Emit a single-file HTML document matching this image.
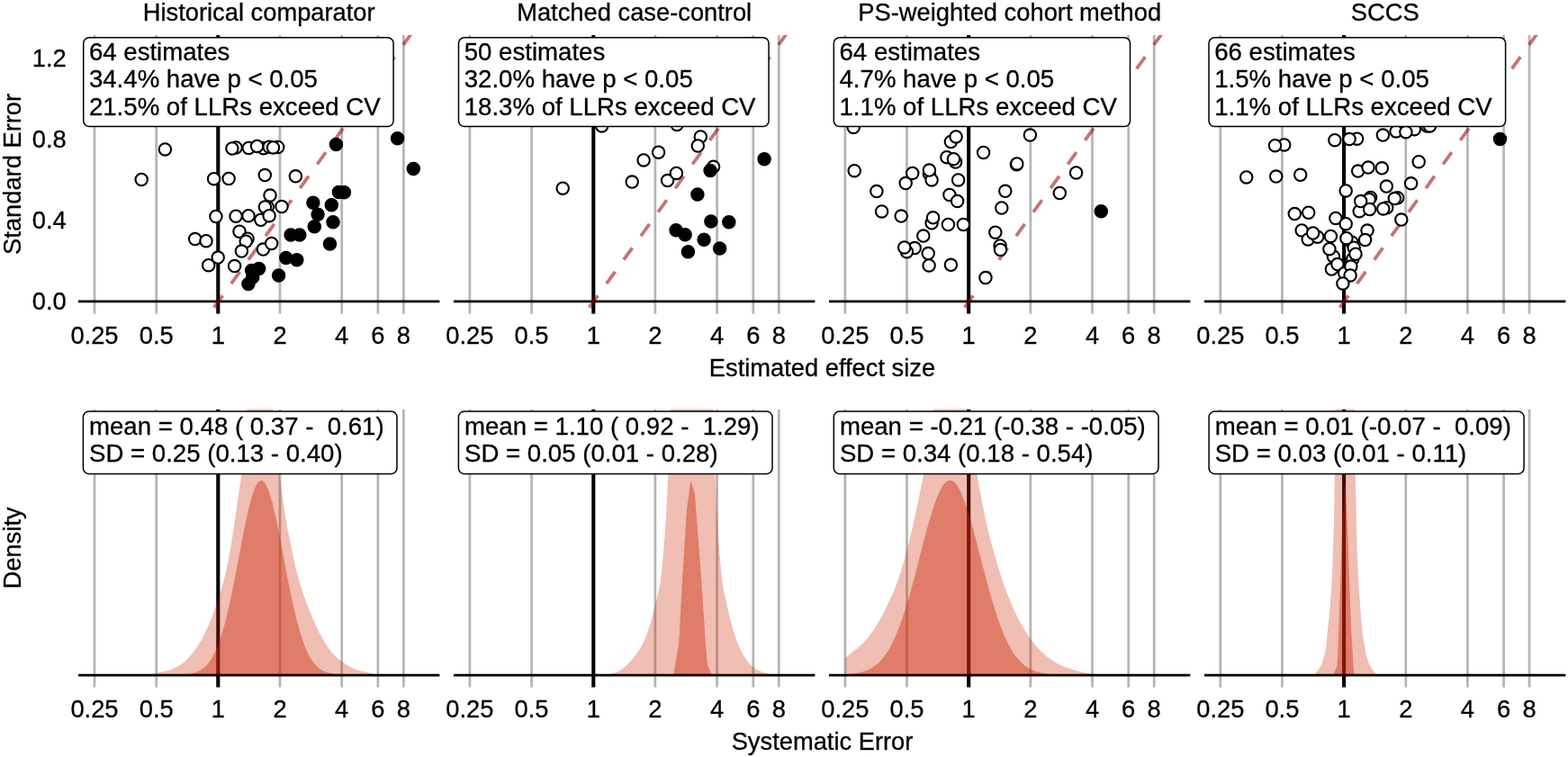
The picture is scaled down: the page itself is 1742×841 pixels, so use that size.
<!DOCTYPE html>
<html lang="en">
<head>
<meta charset="utf-8">
<title>Systematic error distributions</title>
<style>
html,body{margin:0;padding:0;background:#fff;}
body{width:1742px;height:841px;overflow:hidden;}
svg{display:block;}
svg text{font-family:"Liberation Sans",Arial,Helvetica,sans-serif;font-size:27.3px;fill:#000;stroke:#000;stroke-width:0.3px;}
.g{stroke:#b5b5b5;stroke-width:2.75;fill:none;}
.v{stroke:#000;stroke-width:4.1;fill:none;}
.h{stroke:#000;stroke-width:2.75;fill:none;}
.d{stroke:rgb(153,0,0);stroke-opacity:0.55;stroke-width:3.8;stroke-dasharray:16.4 16.3;fill:none;}
.o{fill:#fff;stroke:#000;stroke-width:2.1;}
.f{fill:#000;stroke:#000;stroke-width:2.1;}
.b{fill:#fff;stroke:#000;stroke-width:1.5;}
svg text.t{font-size:27.62px;white-space:pre;}
.l{fill:rgb(205,40,4);fill-opacity:0.3;}
.k{fill:rgb(205,40,4);fill-opacity:0.43;}
</style>
</head>
<body>
<svg width="1742" height="841" viewBox="0 0 1742 841">
<rect x="0" y="0" width="1742" height="841" fill="#fff"/>
<defs>
<clipPath id="ct0"><rect x="86.8" y="39.0" width="401.8" height="309.7"/></clipPath>
<clipPath id="cb0"><rect x="86.8" y="454.5" width="401.8" height="309.2"/></clipPath>
<clipPath id="ct1"><rect x="503.8" y="39.0" width="401.8" height="309.7"/></clipPath>
<clipPath id="cb1"><rect x="503.8" y="454.5" width="401.8" height="309.2"/></clipPath>
<clipPath id="ct2"><rect x="920.8" y="39.0" width="401.8" height="309.7"/></clipPath>
<clipPath id="cb2"><rect x="920.8" y="454.5" width="401.8" height="309.2"/></clipPath>
<clipPath id="ct3"><rect x="1337.8" y="39.0" width="401.8" height="309.7"/></clipPath>
<clipPath id="cb3"><rect x="1337.8" y="454.5" width="401.8" height="309.2"/></clipPath>
</defs>
<g id="top-panel-1">
<text x="287.7" y="22.7" text-anchor="middle">Historical comparator</text>
<g clip-path="url(#ct0)">
<line class="g" x1="105" x2="105" y1="39" y2="348.7"/>
<line class="g" x1="173.7" x2="173.7" y1="39" y2="348.7"/>
<line class="g" x1="311" x2="311" y1="39" y2="348.7"/>
<line class="g" x1="379.7" x2="379.7" y1="39" y2="348.7"/>
<line class="g" x1="419.9" x2="419.9" y1="39" y2="348.7"/>
<line class="g" x1="448.4" x2="448.4" y1="39" y2="348.7"/>
<line class="v" x1="242.3" x2="242.3" y1="39" y2="348.7"/>
<line class="h" x1="86.8" x2="488.6" y1="334.9" y2="334.9"/>
<line class="d" x1="237.76" y1="341.70" x2="459.42" y2="34.00"/>
<circle class="o" cx="262.1" cy="163.9" r="6.7"/>
<circle class="o" cx="257.9" cy="165" r="6.7"/>
<circle class="o" cx="276.3" cy="164.4" r="6.7"/>
<circle class="o" cx="292.8" cy="164.7" r="6.7"/>
<circle class="o" cx="285.6" cy="162.4" r="6.7"/>
<circle class="o" cx="299.1" cy="163.2" r="6.7"/>
<circle class="o" cx="308.7" cy="163.5" r="6.7"/>
<circle class="o" cx="303.5" cy="163.9" r="6.7"/>
<circle class="o" cx="183.4" cy="165.9" r="6.7"/>
<circle class="o" cx="157.2" cy="199.4" r="6.7"/>
<circle class="o" cx="237.6" cy="198.7" r="6.7"/>
<circle class="o" cx="254.1" cy="198.4" r="6.7"/>
<circle class="o" cx="294.3" cy="194.6" r="6.7"/>
<circle class="o" cx="328.4" cy="195.8" r="6.7"/>
<circle class="o" cx="300" cy="217.1" r="6.7"/>
<circle class="o" cx="313" cy="229.6" r="6.7"/>
<circle class="o" cx="297.3" cy="229.9" r="6.7"/>
<circle class="o" cx="294.4" cy="230" r="6.7"/>
<circle class="o" cx="239.9" cy="240.5" r="6.7"/>
<circle class="o" cx="262.1" cy="240.2" r="6.7"/>
<circle class="o" cx="276" cy="239.7" r="6.7"/>
<circle class="o" cx="289.8" cy="244.3" r="6.7"/>
<circle class="o" cx="299.1" cy="239.7" r="6.7"/>
<circle class="o" cx="266" cy="257.2" r="6.7"/>
<circle class="o" cx="216.7" cy="265.6" r="6.7"/>
<circle class="o" cx="229" cy="267.7" r="6.7"/>
<circle class="o" cx="275.1" cy="265.2" r="6.7"/>
<circle class="o" cx="273.2" cy="268.2" r="6.7"/>
<circle class="o" cx="268.4" cy="279.1" r="6.7"/>
<circle class="o" cx="292.4" cy="277.1" r="6.7"/>
<circle class="o" cx="301.7" cy="270.4" r="6.7"/>
<circle class="o" cx="231.7" cy="294.7" r="6.7"/>
<circle class="o" cx="242.2" cy="286.1" r="6.7"/>
<circle class="o" cx="260.6" cy="295.6" r="6.7"/>
<circle class="f" cx="275.9" cy="315.4" r="6.7"/>
<circle class="f" cx="280.7" cy="307.9" r="6.7"/>
<circle class="f" cx="279.6" cy="300.4" r="6.7"/>
<circle class="f" cx="287.6" cy="298.4" r="6.7"/>
<circle class="f" cx="309.6" cy="306.1" r="6.7"/>
<circle class="f" cx="317.8" cy="286.4" r="6.7"/>
<circle class="f" cx="329.8" cy="288.8" r="6.7"/>
<circle class="f" cx="323.1" cy="261" r="6.7"/>
<circle class="f" cx="332.8" cy="261" r="6.7"/>
<circle class="f" cx="349.3" cy="251.7" r="6.7"/>
<circle class="f" cx="366.5" cy="270.9" r="6.7"/>
<circle class="f" cx="370" cy="246.7" r="6.7"/>
<circle class="f" cx="353.1" cy="238.2" r="6.7"/>
<circle class="f" cx="347.9" cy="225.2" r="6.7"/>
<circle class="f" cx="368.3" cy="227.8" r="6.7"/>
<circle class="f" cx="376.4" cy="213.4" r="6.7"/>
<circle class="f" cx="382.4" cy="213.7" r="6.7"/>
<circle class="f" cx="373.4" cy="160.5" r="6.7"/>
<circle class="f" cx="441.6" cy="153.7" r="6.7"/>
<circle class="f" cx="459.3" cy="187.6" r="6.7"/>
</g>
<rect class="b" x="92.7" y="41.8" width="344.4" height="98.8" rx="6.3" ry="6.3"/>
<text class="t" x="98.9" y="67.3" xml:space="preserve">64 estimates</text>
<text class="t" x="98.9" y="97.4" xml:space="preserve">34.4% have p &lt; 0.05</text>
<text class="t" x="98.9" y="127.5" xml:space="preserve">21.5% of LLRs exceed CV</text>
<text x="105" y="382.3" text-anchor="middle">0.25</text>
<text x="173.7" y="382.3" text-anchor="middle">0.5</text>
<text x="242.3" y="382.3" text-anchor="middle">1</text>
<text x="311" y="382.3" text-anchor="middle">2</text>
<text x="379.7" y="382.3" text-anchor="middle">4</text>
<text x="419.9" y="382.3" text-anchor="middle">6</text>
<text x="448.4" y="382.3" text-anchor="middle">8</text>
</g>
<g id="bottom-panel-1">
<g clip-path="url(#cb0)">
<line class="g" x1="105" x2="105" y1="454.5" y2="763.7"/>
<line class="g" x1="173.7" x2="173.7" y1="454.5" y2="763.7"/>
<line class="g" x1="311" x2="311" y1="454.5" y2="763.7"/>
<line class="g" x1="379.7" x2="379.7" y1="454.5" y2="763.7"/>
<line class="g" x1="419.9" x2="419.9" y1="454.5" y2="763.7"/>
<line class="g" x1="448.4" x2="448.4" y1="454.5" y2="763.7"/>
<line class="v" x1="242.3" x2="242.3" y1="454.5" y2="763.7"/>
<path class="l" d="M168.0 749.9L168.0 749.9L171.7 748.5L176.9 747.0L184.6 745.5L189.6 744.0L193.3 742.5L196.3 741.0L198.9 739.5L201.1 738.0L203.2 736.5L205.1 735.0L206.7 733.5L208.2 732.0L209.7 730.5L211.0 729.0L212.3 727.5L213.6 726.0L214.8 724.5L215.9 723.0L217.0 721.5L218.1 720.0L219.1 718.5L220.1 717.0L221.0 715.5L221.9 714.0L222.8 712.5L223.7 711.0L224.5 709.5L225.3 708.0L226.0 706.5L226.8 705.0L227.5 703.5L228.2 702.0L228.9 700.5L229.6 699.0L230.3 697.5L231.0 696.0L231.7 694.5L232.4 693.0L233.0 691.5L233.7 690.0L234.3 688.5L234.9 687.0L235.5 685.5L236.1 684.0L236.6 682.5L237.2 681.0L237.7 679.5L238.2 678.0L238.7 676.5L239.2 675.0L239.7 673.5L240.2 672.0L240.7 670.5L241.2 669.0L241.7 667.5L242.2 666.0L242.7 664.5L243.2 663.0L243.7 661.5L244.2 660.0L244.6 658.5L245.1 657.0L245.6 655.5L246.0 654.0L246.4 652.5L246.9 651.0L247.3 649.5L247.8 648.0L248.2 646.5L248.6 645.0L249.0 643.5L249.4 642.0L249.8 640.5L250.1 639.0L250.5 637.5L250.8 636.0L251.2 634.5L251.5 633.0L251.8 631.5L252.1 630.0L252.4 628.5L252.7 627.0L253.0 625.5L253.3 624.0L253.6 622.5L253.9 621.0L254.2 619.5L254.4 618.0L254.7 616.5L255.0 615.0L255.3 613.5L255.5 612.0L255.8 610.5L256.1 609.0L256.3 607.5L256.6 606.0L256.8 604.5L257.1 603.0L257.3 601.5L257.6 600.0L257.8 598.5L258.1 597.0L258.3 595.5L258.5 594.0L258.8 592.5L259.0 591.0L259.2 589.5L259.5 588.0L259.7 586.5L259.9 585.0L260.2 583.5L260.4 582.0L260.6 580.5L260.8 579.0L261.1 577.5L261.3 576.0L261.5 574.5L261.7 573.0L261.9 571.5L262.1 570.0L262.3 568.5L262.5 567.0L262.7 565.5L263.0 564.0L263.2 562.5L263.4 561.0L263.6 559.5L263.8 558.0L264.0 556.5L264.2 555.0L264.4 553.5L264.6 552.0L264.8 550.5L265.0 549.0L265.3 547.5L265.5 546.0L265.7 544.5L266.0 543.0L266.2 541.5L266.4 540.0L266.7 538.5L266.9 537.0L267.1 535.5L267.4 534.0L267.6 532.5L267.8 531.0L268.0 529.5L268.1 528.0L268.3 526.5L268.5 525.0L268.6 523.5L268.8 522.0L269.0 520.5L269.1 519.0L269.3 517.5L269.5 516.0L269.6 514.5L269.8 513.0L269.9 511.5L270.1 510.0L270.3 508.5L270.4 507.0L270.6 505.5L270.7 504.0L270.9 502.5L271.0 501.0L271.2 499.5L271.3 498.0L271.4 496.5L271.6 495.0L271.7 493.5L271.9 492.0L272.0 490.5L272.1 489.0L272.3 487.5L272.4 486.0L272.5 484.5L272.6 483.0L272.7 481.5L272.9 480.0L273.0 478.5L273.1 477.0L273.2 475.5L273.3 474.0L273.4 472.5L273.5 471.0L273.6 469.5L273.7 468.0L273.7 466.5L273.8 465.0L273.9 463.5L274.0 462.0L274.1 460.5L274.1 459.0L274.2 457.5L274.2 456.0L274.3 454.5L274.7 450.0L302.9 450.0L303.3 454.5L303.4 456.0L303.5 457.5L303.6 459.0L303.8 460.5L303.9 462.0L304.0 463.5L304.1 465.0L304.3 466.5L304.4 468.0L304.5 469.5L304.6 471.0L304.8 472.5L304.9 474.0L305.1 475.5L305.2 477.0L305.3 478.5L305.5 480.0L305.6 481.5L305.8 483.0L305.9 484.5L306.1 486.0L306.2 487.5L306.4 489.0L306.5 490.5L306.7 492.0L306.8 493.5L307.0 495.0L307.1 496.5L307.3 498.0L307.4 499.5L307.6 501.0L307.8 502.5L307.9 504.0L308.1 505.5L308.3 507.0L308.4 508.5L308.6 510.0L308.8 511.5L308.9 513.0L309.1 514.5L309.3 516.0L309.4 517.5L309.6 519.0L309.8 520.5L310.0 522.0L310.1 523.5L310.3 525.0L310.5 526.5L310.7 528.0L310.8 529.5L311.0 531.0L311.2 532.5L311.4 534.0L311.6 535.5L311.8 537.0L312.0 538.5L312.2 540.0L312.4 541.5L312.6 543.0L312.8 544.5L313.0 546.0L313.2 547.5L313.5 549.0L313.7 550.5L313.9 552.0L314.1 553.5L314.3 555.0L314.5 556.5L314.7 558.0L314.9 559.5L315.2 561.0L315.4 562.5L315.6 564.0L315.8 565.5L316.0 567.0L316.3 568.5L316.5 570.0L316.7 571.5L317.0 573.0L317.2 574.5L317.4 576.0L317.7 577.5L317.9 579.0L318.2 580.5L318.5 582.0L318.7 583.5L319.0 585.0L319.3 586.5L319.6 588.0L319.9 589.5L320.2 591.0L320.5 592.5L320.8 594.0L321.1 595.5L321.4 597.0L321.7 598.5L322.0 600.0L322.3 601.5L322.6 603.0L323.0 604.5L323.3 606.0L323.6 607.5L323.9 609.0L324.2 610.5L324.5 612.0L324.9 613.5L325.2 615.0L325.5 616.5L325.8 618.0L326.1 619.5L326.4 621.0L326.7 622.5L327.1 624.0L327.4 625.5L327.7 627.0L328.0 628.5L328.4 630.0L328.7 631.5L329.1 633.0L329.4 634.5L329.8 636.0L330.2 637.5L330.5 639.0L330.9 640.5L331.3 642.0L331.8 643.5L332.2 645.0L332.6 646.5L333.1 648.0L333.5 649.5L334.0 651.0L334.5 652.5L335.0 654.0L335.5 655.5L336.0 657.0L336.5 658.5L337.0 660.0L337.5 661.5L338.0 663.0L338.6 664.5L339.1 666.0L339.7 667.5L340.2 669.0L340.8 670.5L341.4 672.0L341.9 673.5L342.5 675.0L343.1 676.5L343.7 678.0L344.3 679.5L344.9 681.0L345.6 682.5L346.2 684.0L346.8 685.5L347.4 687.0L348.1 688.5L348.7 690.0L349.4 691.5L350.1 693.0L350.7 694.5L351.4 696.0L352.1 697.5L352.9 699.0L353.6 700.5L354.3 702.0L355.1 703.5L355.9 705.0L356.7 706.5L357.5 708.0L358.3 709.5L359.2 711.0L360.1 712.5L361.0 714.0L362.0 715.5L363.0 717.0L364.0 718.5L365.1 720.0L366.2 721.5L367.3 723.0L368.6 724.5L369.8 726.0L371.2 727.5L372.6 729.0L374.1 730.5L375.8 732.0L377.7 733.5L379.7 735.0L381.9 736.5L384.2 738.0L386.6 739.5L389.2 741.0L392.1 742.5L395.7 744.0L400.7 745.5L408.4 747.0L413.9 748.5L418.0 749.9L418.0 749.9Z"/>
<path class="k" d="M86.8 749.9L86.8 749.9L190.4 749.8L194.4 749.8L198.4 749.7L202.4 749.5L206.4 749.2L210.4 748.7L214.4 747.9L218.4 746.7L222.4 744.8L226.4 742.1L230.4 738.2L234.4 732.8L238.4 725.6L242.4 716.3L246.4 704.6L250.4 690.4L254.4 673.7L258.4 654.9L262.4 634.6L266.4 613.4L270.4 592.6L274.4 573.3L278.4 556.6L282.4 543.9L286.4 535.9L290.4 533.4L294.4 536.5L298.4 544.9L302.4 558.1L306.4 575.1L310.4 594.6L314.4 615.6L318.4 636.7L322.4 656.9L326.4 675.5L330.4 691.9L334.4 705.8L338.4 717.3L342.4 726.4L346.4 733.4L350.4 738.6L354.4 742.4L358.4 745.0L362.4 746.8L366.4 748.0L370.4 748.8L374.4 749.2L378.4 749.5L382.4 749.7L386.4 749.8L390.4 749.8L488.6 749.9L488.6 749.9Z"/>
<line class="h" x1="86.8" x2="488.6" y1="750" y2="750"/>
</g>
<rect class="b" x="92.4" y="457.1" width="348.6" height="69.3" rx="6.3" ry="6.3"/>
<text class="t" x="99" y="483" xml:space="preserve">mean = 0.48 ( 0.37 -  0.61)</text>
<text class="t" x="99" y="512.6" xml:space="preserve">SD = 0.25 (0.13 - 0.40)</text>
<text x="105" y="797.3" text-anchor="middle">0.25</text>
<text x="173.7" y="797.3" text-anchor="middle">0.5</text>
<text x="242.3" y="797.3" text-anchor="middle">1</text>
<text x="311" y="797.3" text-anchor="middle">2</text>
<text x="379.7" y="797.3" text-anchor="middle">4</text>
<text x="419.9" y="797.3" text-anchor="middle">6</text>
<text x="448.4" y="797.3" text-anchor="middle">8</text>
</g>
<g id="top-panel-2">
<text x="704.7" y="22.7" text-anchor="middle">Matched case-control</text>
<g clip-path="url(#ct1)">
<line class="g" x1="521.9" x2="521.9" y1="39" y2="348.7"/>
<line class="g" x1="590.6" x2="590.6" y1="39" y2="348.7"/>
<line class="g" x1="727.9" x2="727.9" y1="39" y2="348.7"/>
<line class="g" x1="796.6" x2="796.6" y1="39" y2="348.7"/>
<line class="g" x1="836.8" x2="836.8" y1="39" y2="348.7"/>
<line class="g" x1="865.3" x2="865.3" y1="39" y2="348.7"/>
<line class="v" x1="659.3" x2="659.3" y1="39" y2="348.7"/>
<line class="h" x1="503.8" x2="905.6" y1="334.9" y2="334.9"/>
<line class="d" x1="654.68" y1="341.70" x2="876.34" y2="34.00"/>
<circle class="o" cx="668.6" cy="139.9" r="6.7"/>
<circle class="o" cx="752.1" cy="138.4" r="6.7"/>
<circle class="o" cx="778.3" cy="151.9" r="6.7"/>
<circle class="o" cx="775.3" cy="162" r="6.7"/>
<circle class="o" cx="731.6" cy="169.2" r="6.7"/>
<circle class="o" cx="715.1" cy="177.9" r="6.7"/>
<circle class="o" cx="792.6" cy="185.3" r="6.7"/>
<circle class="o" cx="741.6" cy="200.6" r="6.7"/>
<circle class="o" cx="751.4" cy="192.4" r="6.7"/>
<circle class="o" cx="702.2" cy="202.1" r="6.7"/>
<circle class="o" cx="625.2" cy="209.2" r="6.7"/>
<circle class="f" cx="789.1" cy="189.4" r="6.7"/>
<circle class="f" cx="849.1" cy="176.7" r="6.7"/>
<circle class="f" cx="774.9" cy="216.1" r="6.7"/>
<circle class="f" cx="789.9" cy="245.9" r="6.7"/>
<circle class="f" cx="809.8" cy="246.7" r="6.7"/>
<circle class="f" cx="751.1" cy="255.8" r="6.7"/>
<circle class="f" cx="761.1" cy="260.7" r="6.7"/>
<circle class="f" cx="782.1" cy="266.2" r="6.7"/>
<circle class="f" cx="799.6" cy="275.9" r="6.7"/>
<circle class="f" cx="764.4" cy="279.7" r="6.7"/>
</g>
<rect class="b" x="509.5" y="41.8" width="344.6" height="98.8" rx="6.3" ry="6.3"/>
<text class="t" x="515.7" y="67.3" xml:space="preserve">50 estimates</text>
<text class="t" x="515.7" y="97.4" xml:space="preserve">32.0% have p &lt; 0.05</text>
<text class="t" x="515.7" y="127.5" xml:space="preserve">18.3% of LLRs exceed CV</text>
<text x="521.9" y="382.3" text-anchor="middle">0.25</text>
<text x="590.6" y="382.3" text-anchor="middle">0.5</text>
<text x="659.3" y="382.3" text-anchor="middle">1</text>
<text x="727.9" y="382.3" text-anchor="middle">2</text>
<text x="796.6" y="382.3" text-anchor="middle">4</text>
<text x="836.8" y="382.3" text-anchor="middle">6</text>
<text x="865.3" y="382.3" text-anchor="middle">8</text>
</g>
<g id="bottom-panel-2">
<g clip-path="url(#cb1)">
<line class="g" x1="521.9" x2="521.9" y1="454.5" y2="763.7"/>
<line class="g" x1="590.6" x2="590.6" y1="454.5" y2="763.7"/>
<line class="g" x1="727.9" x2="727.9" y1="454.5" y2="763.7"/>
<line class="g" x1="796.6" x2="796.6" y1="454.5" y2="763.7"/>
<line class="g" x1="836.8" x2="836.8" y1="454.5" y2="763.7"/>
<line class="g" x1="865.3" x2="865.3" y1="454.5" y2="763.7"/>
<line class="v" x1="659.3" x2="659.3" y1="454.5" y2="763.7"/>
<path class="l" d="M670.0 749.9L670.0 749.9L679.8 748.5L684.7 747.0L687.7 745.5L690.0 744.0L691.9 742.5L693.8 741.0L695.6 739.5L697.2 738.0L698.7 736.5L700.2 735.0L701.5 733.5L702.8 732.0L704.0 730.5L705.2 729.0L706.3 727.5L707.4 726.0L708.5 724.5L709.5 723.0L710.5 721.5L711.4 720.0L712.3 718.5L713.2 717.0L713.9 715.5L714.7 714.0L715.4 712.5L716.1 711.0L716.7 709.5L717.3 708.0L717.9 706.5L718.5 705.0L719.0 703.5L719.5 702.0L720.0 700.5L720.5 699.0L721.0 697.5L721.5 696.0L721.9 694.5L722.4 693.0L722.8 691.5L723.3 690.0L723.7 688.5L724.1 687.0L724.5 685.5L724.9 684.0L725.3 682.5L725.7 681.0L726.1 679.5L726.4 678.0L726.8 676.5L727.2 675.0L727.5 673.5L727.9 672.0L728.3 670.5L728.6 669.0L729.0 667.5L729.4 666.0L729.8 664.5L730.2 663.0L730.5 661.5L730.9 660.0L731.3 658.5L731.6 657.0L732.0 655.5L732.3 654.0L732.6 652.5L732.9 651.0L733.2 649.5L733.4 648.0L733.6 646.5L733.8 645.0L734.0 643.5L734.2 642.0L734.3 640.5L734.5 639.0L734.7 637.5L734.9 636.0L735.0 634.5L735.2 633.0L735.3 631.5L735.5 630.0L735.7 628.5L735.8 627.0L736.0 625.5L736.1 624.0L736.2 622.5L736.4 621.0L736.5 619.5L736.7 618.0L736.8 616.5L736.9 615.0L737.1 613.5L737.2 612.0L737.3 610.5L737.5 609.0L737.6 607.5L737.7 606.0L737.8 604.5L737.9 603.0L738.1 601.5L738.2 600.0L738.3 598.5L738.4 597.0L738.5 595.5L738.6 594.0L738.7 592.5L738.8 591.0L738.9 589.5L739.0 588.0L739.1 586.5L739.2 585.0L739.3 583.5L739.4 582.0L739.5 580.5L739.6 579.0L739.7 577.5L739.8 576.0L739.9 574.5L740.0 573.0L740.1 571.5L740.1 570.0L740.2 568.5L740.3 567.0L740.4 565.5L740.5 564.0L740.6 562.5L740.6 561.0L740.7 559.5L740.8 558.0L740.9 556.5L741.0 555.0L741.0 553.5L741.1 552.0L741.2 550.5L741.3 549.0L741.3 547.5L741.4 546.0L741.5 544.5L741.6 543.0L741.6 541.5L741.7 540.0L741.8 538.5L741.8 537.0L741.9 535.5L742.0 534.0L742.1 532.5L742.1 531.0L742.2 529.5L742.3 528.0L742.3 526.5L742.4 525.0L742.5 523.5L742.6 522.0L742.6 520.5L742.7 519.0L742.8 517.5L742.8 516.0L742.9 514.5L743.0 513.0L743.0 511.5L743.1 510.0L743.2 508.5L743.2 507.0L743.3 505.5L743.4 504.0L743.4 502.5L743.5 501.0L743.5 499.5L743.6 498.0L743.7 496.5L743.7 495.0L743.8 493.5L743.8 492.0L743.9 490.5L743.9 489.0L744.0 487.5L744.1 486.0L744.1 484.5L744.2 483.0L744.2 481.5L744.3 480.0L744.3 478.5L744.4 477.0L744.4 475.5L744.5 474.0L744.5 472.5L744.6 471.0L744.6 469.5L744.6 468.0L744.7 466.5L744.7 465.0L744.8 463.5L744.8 462.0L744.9 460.5L744.9 459.0L744.9 457.5L745.0 456.0L745.0 454.5L745.2 450.0L792.4 450.0L792.5 454.5L792.5 456.0L792.5 457.5L792.6 459.0L792.6 460.5L792.6 462.0L792.7 463.5L792.7 465.0L792.7 466.5L792.7 468.0L792.8 469.5L792.8 471.0L792.8 472.5L792.9 474.0L792.9 475.5L792.9 477.0L793.0 478.5L793.0 480.0L793.1 481.5L793.1 483.0L793.1 484.5L793.2 486.0L793.2 487.5L793.3 489.0L793.3 490.5L793.4 492.0L793.4 493.5L793.5 495.0L793.5 496.5L793.5 498.0L793.6 499.5L793.6 501.0L793.7 502.5L793.7 504.0L793.8 505.5L793.8 507.0L793.9 508.5L793.9 510.0L794.0 511.5L794.1 513.0L794.1 514.5L794.2 516.0L794.2 517.5L794.3 519.0L794.3 520.5L794.4 522.0L794.4 523.5L794.5 525.0L794.6 526.5L794.6 528.0L794.7 529.5L794.7 531.0L794.8 532.5L794.9 534.0L794.9 535.5L795.0 537.0L795.0 538.5L795.1 540.0L795.2 541.5L795.2 543.0L795.3 544.5L795.4 546.0L795.4 547.5L795.5 549.0L795.6 550.5L795.6 552.0L795.7 553.5L795.8 555.0L795.8 556.5L795.9 558.0L796.0 559.5L796.0 561.0L796.1 562.5L796.2 564.0L796.3 565.5L796.3 567.0L796.4 568.5L796.5 570.0L796.6 571.5L796.7 573.0L796.7 574.5L796.8 576.0L796.9 577.5L797.0 579.0L797.1 580.5L797.2 582.0L797.2 583.5L797.3 585.0L797.4 586.5L797.5 588.0L797.6 589.5L797.7 591.0L797.8 592.5L797.9 594.0L798.0 595.5L798.1 597.0L798.2 598.5L798.3 600.0L798.4 601.5L798.5 603.0L798.6 604.5L798.7 606.0L798.9 607.5L799.0 609.0L799.1 610.5L799.2 612.0L799.3 613.5L799.4 615.0L799.6 616.5L799.7 618.0L799.8 619.5L800.0 621.0L800.1 622.5L800.2 624.0L800.4 625.5L800.5 627.0L800.6 628.5L800.8 630.0L800.9 631.5L801.1 633.0L801.2 634.5L801.4 636.0L801.5 637.5L801.7 639.0L801.8 640.5L802.0 642.0L802.1 643.5L802.3 645.0L802.5 646.5L802.7 648.0L802.9 649.5L803.1 651.0L803.4 652.5L803.6 654.0L803.9 655.5L804.2 657.0L804.5 658.5L804.9 660.0L805.2 661.5L805.5 663.0L805.9 664.5L806.2 666.0L806.5 667.5L806.9 669.0L807.2 670.5L807.5 672.0L807.9 673.5L808.2 675.0L808.5 676.5L808.9 678.0L809.2 679.5L809.6 681.0L810.0 682.5L810.3 684.0L810.7 685.5L811.1 687.0L811.4 688.5L811.8 690.0L812.2 691.5L812.6 693.0L813.0 694.5L813.4 696.0L813.9 697.5L814.3 699.0L814.7 700.5L815.2 702.0L815.7 703.5L816.2 705.0L816.6 706.5L817.2 708.0L817.7 709.5L818.2 711.0L818.8 712.5L819.4 714.0L820.0 715.5L820.6 717.0L821.3 718.5L821.9 720.0L822.6 721.5L823.4 723.0L824.1 724.5L824.9 726.0L825.8 727.5L826.7 729.0L827.6 730.5L828.6 732.0L829.6 733.5L830.7 735.0L831.9 736.5L833.3 738.0L834.8 739.5L836.5 741.0L838.5 742.5L840.8 744.0L843.9 745.5L847.9 747.0L853.7 748.5L864.0 749.9L864.0 749.9Z"/>
<path class="k" d="M747.5 749.9L747.5 749.9L748.6 747.9L754.2 714.9L757.9 646.0L762.9 566.5L767.4 533.8L771.9 548.5L779.4 646.0L783.9 714.9L785.7 737.4L789.9 747.9L792.0 749.9L792.0 749.9Z"/>
<line class="h" x1="503.8" x2="905.6" y1="750" y2="750"/>
</g>
<rect class="b" x="509.4" y="457.1" width="348.6" height="69.3" rx="6.3" ry="6.3"/>
<text class="t" x="516" y="483" xml:space="preserve">mean = 1.10 ( 0.92 -  1.29)</text>
<text class="t" x="516" y="512.6" xml:space="preserve">SD = 0.05 (0.01 - 0.28)</text>
<text x="521.9" y="797.3" text-anchor="middle">0.25</text>
<text x="590.6" y="797.3" text-anchor="middle">0.5</text>
<text x="659.3" y="797.3" text-anchor="middle">1</text>
<text x="727.9" y="797.3" text-anchor="middle">2</text>
<text x="796.6" y="797.3" text-anchor="middle">4</text>
<text x="836.8" y="797.3" text-anchor="middle">6</text>
<text x="865.3" y="797.3" text-anchor="middle">8</text>
</g>
<g id="top-panel-3">
<text x="1121.7" y="22.7" text-anchor="middle">PS-weighted cohort method</text>
<g clip-path="url(#ct2)">
<line class="g" x1="938.9" x2="938.9" y1="39" y2="348.7"/>
<line class="g" x1="1007.5" x2="1007.5" y1="39" y2="348.7"/>
<line class="g" x1="1144.9" x2="1144.9" y1="39" y2="348.7"/>
<line class="g" x1="1213.5" x2="1213.5" y1="39" y2="348.7"/>
<line class="g" x1="1253.7" x2="1253.7" y1="39" y2="348.7"/>
<line class="g" x1="1282.2" x2="1282.2" y1="39" y2="348.7"/>
<line class="v" x1="1076.2" x2="1076.2" y1="39" y2="348.7"/>
<line class="h" x1="920.8" x2="1322.6" y1="334.9" y2="334.9"/>
<line class="d" x1="1071.61" y1="341.70" x2="1293.27" y2="34.00"/>
<circle class="o" cx="948.2" cy="141.4" r="6.7"/>
<circle class="o" cx="949.2" cy="189.7" r="6.7"/>
<circle class="o" cx="973.9" cy="212.6" r="6.7"/>
<circle class="o" cx="979.6" cy="234.9" r="6.7"/>
<circle class="o" cx="1001.2" cy="240.1" r="6.7"/>
<circle class="o" cx="1006.2" cy="203.6" r="6.7"/>
<circle class="o" cx="1013.7" cy="192.4" r="6.7"/>
<circle class="o" cx="1032.4" cy="193.2" r="6.7"/>
<circle class="o" cx="1035.1" cy="199.9" r="6.7"/>
<circle class="o" cx="1032.4" cy="189.1" r="6.7"/>
<circle class="o" cx="1056.4" cy="157.5" r="6.7"/>
<circle class="o" cx="1062.1" cy="151.9" r="6.7"/>
<circle class="o" cx="1051.9" cy="174.7" r="6.7"/>
<circle class="o" cx="1061.6" cy="180.1" r="6.7"/>
<circle class="o" cx="1059.4" cy="176.7" r="6.7"/>
<circle class="o" cx="1064.6" cy="199.9" r="6.7"/>
<circle class="o" cx="1054.9" cy="216.4" r="6.7"/>
<circle class="o" cx="1063.6" cy="223.4" r="6.7"/>
<circle class="o" cx="1035.1" cy="247.8" r="6.7"/>
<circle class="o" cx="1036.6" cy="241.8" r="6.7"/>
<circle class="o" cx="1053.4" cy="249.5" r="6.7"/>
<circle class="o" cx="1070.3" cy="249.5" r="6.7"/>
<circle class="o" cx="1092.6" cy="169.5" r="6.7"/>
<circle class="o" cx="1144.4" cy="150.1" r="6.7"/>
<circle class="o" cx="1129.4" cy="182.7" r="6.7"/>
<circle class="o" cx="1129.8" cy="181.9" r="6.7"/>
<circle class="o" cx="1116.8" cy="212.3" r="6.7"/>
<circle class="o" cx="1112.8" cy="231" r="6.7"/>
<circle class="o" cx="1105.8" cy="258.2" r="6.7"/>
<circle class="o" cx="1177.3" cy="214.5" r="6.7"/>
<circle class="o" cx="1195.6" cy="191.9" r="6.7"/>
<circle class="o" cx="1025.8" cy="262.1" r="6.7"/>
<circle class="o" cx="1016.2" cy="275.6" r="6.7"/>
<circle class="o" cx="1007.4" cy="279.7" r="6.7"/>
<circle class="o" cx="1004.7" cy="274.9" r="6.7"/>
<circle class="o" cx="1031.2" cy="281.6" r="6.7"/>
<circle class="o" cx="1032.1" cy="294.9" r="6.7"/>
<circle class="o" cx="1056.4" cy="294.3" r="6.7"/>
<circle class="o" cx="1111.1" cy="272.9" r="6.7"/>
<circle class="o" cx="1111.5" cy="277.4" r="6.7"/>
<circle class="o" cx="1094.9" cy="308.6" r="6.7"/>
<circle class="f" cx="1223.3" cy="234.8" r="6.7"/>
</g>
<rect class="b" x="926.3" y="41.8" width="329.2" height="98.8" rx="6.3" ry="6.3"/>
<text class="t" x="932.5" y="67.3" xml:space="preserve">64 estimates</text>
<text class="t" x="932.5" y="97.4" xml:space="preserve">4.7% have p &lt; 0.05</text>
<text class="t" x="932.5" y="127.5" xml:space="preserve">1.1% of LLRs exceed CV</text>
<text x="938.9" y="382.3" text-anchor="middle">0.25</text>
<text x="1007.5" y="382.3" text-anchor="middle">0.5</text>
<text x="1076.2" y="382.3" text-anchor="middle">1</text>
<text x="1144.9" y="382.3" text-anchor="middle">2</text>
<text x="1213.5" y="382.3" text-anchor="middle">4</text>
<text x="1253.7" y="382.3" text-anchor="middle">6</text>
<text x="1282.2" y="382.3" text-anchor="middle">8</text>
</g>
<g id="bottom-panel-3">
<g clip-path="url(#cb2)">
<line class="g" x1="938.9" x2="938.9" y1="454.5" y2="763.7"/>
<line class="g" x1="1007.5" x2="1007.5" y1="454.5" y2="763.7"/>
<line class="g" x1="1144.9" x2="1144.9" y1="454.5" y2="763.7"/>
<line class="g" x1="1213.5" x2="1213.5" y1="454.5" y2="763.7"/>
<line class="g" x1="1253.7" x2="1253.7" y1="454.5" y2="763.7"/>
<line class="g" x1="1282.2" x2="1282.2" y1="454.5" y2="763.7"/>
<line class="v" x1="1076.2" x2="1076.2" y1="454.5" y2="763.7"/>
<path class="l" d="M938.7 749.9L938.7 730.5L939.9 730.5L941.5 729.0L943.2 727.5L945.1 726.0L947.0 724.5L948.9 723.0L950.9 721.5L952.8 720.0L954.6 718.5L956.3 717.0L957.9 715.5L959.4 714.0L960.7 712.5L962.0 711.0L963.3 709.5L964.5 708.0L965.7 706.5L966.9 705.0L968.0 703.5L969.0 702.0L970.1 700.5L971.1 699.0L972.1 697.5L973.1 696.0L974.0 694.5L974.9 693.0L975.8 691.5L976.7 690.0L977.6 688.5L978.4 687.0L979.2 685.5L980.0 684.0L980.8 682.5L981.6 681.0L982.3 679.5L983.1 678.0L983.8 676.5L984.5 675.0L985.2 673.5L986.0 672.0L986.7 670.5L987.4 669.0L988.1 667.5L988.8 666.0L989.5 664.5L990.2 663.0L990.9 661.5L991.6 660.0L992.2 658.5L992.9 657.0L993.5 655.5L994.1 654.0L994.7 652.5L995.3 651.0L995.9 649.5L996.4 648.0L997.0 646.5L997.5 645.0L998.0 643.5L998.5 642.0L999.0 640.5L999.5 639.0L1000.0 637.5L1000.5 636.0L1001.0 634.5L1001.4 633.0L1001.9 631.5L1002.3 630.0L1002.8 628.5L1003.2 627.0L1003.6 625.5L1004.1 624.0L1004.5 622.5L1004.9 621.0L1005.3 619.5L1005.7 618.0L1006.1 616.5L1006.5 615.0L1006.9 613.5L1007.3 612.0L1007.7 610.5L1008.1 609.0L1008.5 607.5L1008.9 606.0L1009.3 604.5L1009.7 603.0L1010.0 601.5L1010.4 600.0L1010.8 598.5L1011.1 597.0L1011.5 595.5L1011.9 594.0L1012.2 592.5L1012.6 591.0L1012.9 589.5L1013.3 588.0L1013.6 586.5L1013.9 585.0L1014.3 583.5L1014.6 582.0L1015.0 580.5L1015.3 579.0L1015.6 577.5L1016.0 576.0L1016.3 574.5L1016.6 573.0L1016.9 571.5L1017.3 570.0L1017.6 568.5L1017.9 567.0L1018.2 565.5L1018.5 564.0L1018.8 562.5L1019.1 561.0L1019.5 559.5L1019.8 558.0L1020.1 556.5L1020.4 555.0L1020.7 553.5L1021.0 552.0L1021.3 550.5L1021.6 549.0L1021.9 547.5L1022.2 546.0L1022.5 544.5L1022.9 543.0L1023.2 541.5L1023.5 540.0L1023.8 538.5L1024.1 537.0L1024.4 535.5L1024.7 534.0L1025.0 532.5L1025.3 531.0L1025.5 529.5L1025.8 528.0L1026.1 526.5L1026.3 525.0L1026.6 523.5L1026.9 522.0L1027.1 520.5L1027.4 519.0L1027.6 517.5L1027.9 516.0L1028.2 514.5L1028.4 513.0L1028.7 511.5L1028.9 510.0L1029.2 508.5L1029.4 507.0L1029.7 505.5L1029.9 504.0L1030.2 502.5L1030.4 501.0L1030.6 499.5L1030.9 498.0L1031.1 496.5L1031.4 495.0L1031.6 493.5L1031.8 492.0L1032.1 490.5L1032.3 489.0L1032.5 487.5L1032.7 486.0L1033.0 484.5L1033.2 483.0L1033.4 481.5L1033.6 480.0L1033.8 478.5L1034.0 477.0L1034.2 475.5L1034.5 474.0L1034.7 472.5L1034.9 471.0L1035.1 469.5L1035.3 468.0L1035.4 466.5L1035.6 465.0L1035.8 463.5L1036.0 462.0L1036.2 460.5L1036.4 459.0L1036.6 457.5L1036.7 456.0L1036.9 454.5L1037.6 450.0L1074.9 450.0L1075.5 454.5L1075.7 456.0L1075.8 457.5L1076.0 459.0L1076.2 460.5L1076.3 462.0L1076.5 463.5L1076.7 465.0L1076.9 466.5L1077.1 468.0L1077.2 469.5L1077.4 471.0L1077.6 472.5L1077.8 474.0L1078.0 475.5L1078.2 477.0L1078.4 478.5L1078.6 480.0L1078.8 481.5L1079.0 483.0L1079.2 484.5L1079.4 486.0L1079.6 487.5L1079.8 489.0L1080.0 490.5L1080.2 492.0L1080.4 493.5L1080.7 495.0L1080.9 496.5L1081.1 498.0L1081.3 499.5L1081.5 501.0L1081.7 502.5L1082.0 504.0L1082.2 505.5L1082.4 507.0L1082.6 508.5L1082.9 510.0L1083.1 511.5L1083.3 513.0L1083.6 514.5L1083.8 516.0L1084.0 517.5L1084.3 519.0L1084.5 520.5L1084.7 522.0L1085.0 523.5L1085.2 525.0L1085.4 526.5L1085.7 528.0L1085.9 529.5L1086.2 531.0L1086.4 532.5L1086.7 534.0L1086.9 535.5L1087.2 537.0L1087.5 538.5L1087.7 540.0L1088.0 541.5L1088.3 543.0L1088.6 544.5L1088.9 546.0L1089.1 547.5L1089.4 549.0L1089.7 550.5L1090.0 552.0L1090.3 553.5L1090.5 555.0L1090.8 556.5L1091.1 558.0L1091.4 559.5L1091.7 561.0L1092.0 562.5L1092.3 564.0L1092.6 565.5L1092.9 567.0L1093.2 568.5L1093.5 570.0L1093.8 571.5L1094.1 573.0L1094.4 574.5L1094.7 576.0L1095.1 577.5L1095.4 579.0L1095.7 580.5L1096.1 582.0L1096.4 583.5L1096.8 585.0L1097.1 586.5L1097.5 588.0L1097.8 589.5L1098.2 591.0L1098.6 592.5L1098.9 594.0L1099.3 595.5L1099.7 597.0L1100.1 598.5L1100.5 600.0L1100.9 601.5L1101.3 603.0L1101.6 604.5L1102.0 606.0L1102.4 607.5L1102.9 609.0L1103.3 610.5L1103.7 612.0L1104.1 613.5L1104.5 615.0L1104.9 616.5L1105.4 618.0L1105.8 619.5L1106.2 621.0L1106.7 622.5L1107.1 624.0L1107.6 625.5L1108.0 627.0L1108.5 628.5L1108.9 630.0L1109.4 631.5L1109.9 633.0L1110.3 634.5L1110.8 636.0L1111.3 637.5L1111.8 639.0L1112.3 640.5L1112.8 642.0L1113.3 643.5L1113.8 645.0L1114.3 646.5L1114.8 648.0L1115.3 649.5L1115.8 651.0L1116.4 652.5L1116.9 654.0L1117.5 655.5L1118.1 657.0L1118.6 658.5L1119.2 660.0L1119.8 661.5L1120.4 663.0L1121.0 664.5L1121.6 666.0L1122.2 667.5L1122.9 669.0L1123.5 670.5L1124.2 672.0L1124.8 673.5L1125.5 675.0L1126.1 676.5L1126.8 678.0L1127.5 679.5L1128.2 681.0L1128.9 682.5L1129.6 684.0L1130.3 685.5L1131.1 687.0L1131.9 688.5L1132.7 690.0L1133.5 691.5L1134.3 693.0L1135.1 694.5L1136.0 696.0L1136.9 697.5L1137.7 699.0L1138.7 700.5L1139.6 702.0L1140.6 703.5L1141.5 705.0L1142.5 706.5L1143.6 708.0L1144.6 709.5L1145.7 711.0L1146.9 712.5L1148.1 714.0L1149.3 715.5L1150.6 717.0L1151.9 718.5L1153.3 720.0L1154.7 721.5L1156.1 723.0L1157.7 724.5L1159.3 726.0L1161.0 727.5L1162.7 729.0L1164.5 730.5L1166.5 732.0L1168.6 733.5L1170.8 735.0L1173.4 736.5L1176.2 738.0L1179.4 739.5L1183.1 741.0L1187.3 742.5L1191.9 744.0L1197.2 745.5L1203.6 747.0L1211.8 748.5L1232.0 749.9L1232.0 749.9Z"/>
<path class="k" d="M938.7 749.9L938.7 749.4L939.6 749.3L943.6 749.0L947.6 748.6L951.6 748.0L955.6 747.2L959.6 746.1L963.6 744.6L967.6 742.7L971.6 740.1L975.6 736.9L979.6 732.8L983.6 727.7L987.6 721.5L991.6 714.0L995.6 705.3L999.6 695.2L1003.6 683.8L1007.6 671.1L1011.6 657.2L1015.6 642.5L1019.6 627.1L1023.6 611.6L1027.6 596.2L1031.6 581.5L1035.6 568.0L1039.6 556.2L1043.6 546.5L1047.6 539.3L1051.6 534.8L1055.6 533.4L1059.6 535.0L1063.6 539.6L1067.6 546.9L1071.6 556.7L1075.6 568.7L1079.6 582.2L1083.6 597.0L1087.6 612.4L1091.6 627.9L1095.6 643.2L1099.6 657.9L1103.6 671.7L1107.6 684.4L1111.6 695.7L1115.6 705.8L1119.6 714.4L1123.6 721.8L1127.6 727.9L1131.6 733.0L1135.6 737.1L1139.6 740.3L1143.6 742.8L1147.6 744.7L1151.6 746.2L1155.6 747.3L1159.6 748.1L1163.6 748.6L1167.6 749.0L1171.6 749.3L1175.6 749.5L1179.6 749.7L1183.6 749.7L1187.6 749.8L1191.6 749.8L1322.6 749.9L1322.6 749.9Z"/>
<line class="h" x1="920.8" x2="1322.6" y1="750" y2="750"/>
</g>
<rect class="b" x="926.3" y="457.1" width="360.7" height="69.3" rx="6.3" ry="6.3"/>
<text class="t" x="932.9" y="483" xml:space="preserve">mean = -0.21 (-0.38 - -0.05)</text>
<text class="t" x="932.9" y="512.6" xml:space="preserve">SD = 0.34 (0.18 - 0.54)</text>
<text x="938.9" y="797.3" text-anchor="middle">0.25</text>
<text x="1007.5" y="797.3" text-anchor="middle">0.5</text>
<text x="1076.2" y="797.3" text-anchor="middle">1</text>
<text x="1144.9" y="797.3" text-anchor="middle">2</text>
<text x="1213.5" y="797.3" text-anchor="middle">4</text>
<text x="1253.7" y="797.3" text-anchor="middle">6</text>
<text x="1282.2" y="797.3" text-anchor="middle">8</text>
</g>
<g id="top-panel-4">
<text x="1538.7" y="22.7" text-anchor="middle">SCCS</text>
<g clip-path="url(#ct3)">
<line class="g" x1="1355.8" x2="1355.8" y1="39" y2="348.7"/>
<line class="g" x1="1424.4" x2="1424.4" y1="39" y2="348.7"/>
<line class="g" x1="1561.8" x2="1561.8" y1="39" y2="348.7"/>
<line class="g" x1="1630.4" x2="1630.4" y1="39" y2="348.7"/>
<line class="g" x1="1670.6" x2="1670.6" y1="39" y2="348.7"/>
<line class="g" x1="1699.1" x2="1699.1" y1="39" y2="348.7"/>
<line class="v" x1="1493.1" x2="1493.1" y1="39" y2="348.7"/>
<line class="h" x1="1337.8" x2="1739.6" y1="334.9" y2="334.9"/>
<line class="d" x1="1488.51" y1="341.70" x2="1710.17" y2="34.00"/>
<circle class="o" cx="1384.7" cy="196.9" r="6.7"/>
<circle class="o" cx="1417.7" cy="196.1" r="6.7"/>
<circle class="o" cx="1444.7" cy="194.3" r="6.7"/>
<circle class="o" cx="1426.7" cy="160.9" r="6.7"/>
<circle class="o" cx="1416.5" cy="161.7" r="6.7"/>
<circle class="o" cx="1482.9" cy="155.7" r="6.7"/>
<circle class="o" cx="1507.6" cy="154.2" r="6.7"/>
<circle class="o" cx="1499.1" cy="154.6" r="6.7"/>
<circle class="o" cx="1536.4" cy="150.1" r="6.7"/>
<circle class="o" cx="1551.1" cy="145.9" r="6.7"/>
<circle class="o" cx="1571.3" cy="143.7" r="6.7"/>
<circle class="o" cx="1561.9" cy="146.7" r="6.7"/>
<circle class="o" cx="1585.5" cy="140.1" r="6.7"/>
<circle class="o" cx="1588.5" cy="139.9" r="6.7"/>
<circle class="o" cx="1576.2" cy="179.7" r="6.7"/>
<circle class="o" cx="1508.7" cy="190.1" r="6.7"/>
<circle class="o" cx="1520" cy="186.1" r="6.7"/>
<circle class="o" cx="1535.3" cy="186.8" r="6.7"/>
<circle class="o" cx="1540.3" cy="207.1" r="6.7"/>
<circle class="o" cx="1567.6" cy="203.8" r="6.7"/>
<circle class="o" cx="1495.2" cy="211.9" r="6.7"/>
<circle class="o" cx="1522.6" cy="219.4" r="6.7"/>
<circle class="o" cx="1521.1" cy="221.6" r="6.7"/>
<circle class="o" cx="1510.2" cy="234.7" r="6.7"/>
<circle class="o" cx="1511.7" cy="223.6" r="6.7"/>
<circle class="o" cx="1521.6" cy="232.5" r="6.7"/>
<circle class="o" cx="1552.6" cy="219.8" r="6.7"/>
<circle class="o" cx="1549.3" cy="220.6" r="6.7"/>
<circle class="o" cx="1540.7" cy="230.7" r="6.7"/>
<circle class="o" cx="1536.8" cy="231.9" r="6.7"/>
<circle class="o" cx="1438.3" cy="237.6" r="6.7"/>
<circle class="o" cx="1453.7" cy="236.2" r="6.7"/>
<circle class="o" cx="1483.9" cy="242.4" r="6.7"/>
<circle class="o" cx="1495.2" cy="248.7" r="6.7"/>
<circle class="o" cx="1556.8" cy="244.1" r="6.7"/>
<circle class="o" cx="1446.2" cy="255.9" r="6.7"/>
<circle class="o" cx="1453.2" cy="265.9" r="6.7"/>
<circle class="o" cx="1463.7" cy="263.2" r="6.7"/>
<circle class="o" cx="1458.7" cy="259" r="6.7"/>
<circle class="o" cx="1478.4" cy="262.4" r="6.7"/>
<circle class="o" cx="1519" cy="256.1" r="6.7"/>
<circle class="o" cx="1516.6" cy="266.6" r="6.7"/>
<circle class="o" cx="1501.9" cy="269.2" r="6.7"/>
<circle class="o" cx="1495.9" cy="264.7" r="6.7"/>
<circle class="o" cx="1481.4" cy="284.9" r="6.7"/>
<circle class="o" cx="1476.9" cy="276.7" r="6.7"/>
<circle class="o" cx="1504.2" cy="275.2" r="6.7"/>
<circle class="o" cx="1502.7" cy="287.9" r="6.7"/>
<circle class="o" cx="1506" cy="282.2" r="6.7"/>
<circle class="o" cx="1479.4" cy="299.1" r="6.7"/>
<circle class="o" cx="1485.9" cy="293.6" r="6.7"/>
<circle class="o" cx="1493.7" cy="303.6" r="6.7"/>
<circle class="o" cx="1500.9" cy="296.1" r="6.7"/>
<circle class="o" cx="1500.1" cy="305.9" r="6.7"/>
<circle class="o" cx="1491.9" cy="314.9" r="6.7"/>
<circle class="f" cx="1666.5" cy="154.4" r="6.7"/>
</g>
<rect class="b" x="1343" y="41.8" width="329.6" height="98.8" rx="6.3" ry="6.3"/>
<text class="t" x="1349.2" y="67.3" xml:space="preserve">66 estimates</text>
<text class="t" x="1349.2" y="97.4" xml:space="preserve">1.5% have p &lt; 0.05</text>
<text class="t" x="1349.2" y="127.5" xml:space="preserve">1.1% of LLRs exceed CV</text>
<text x="1355.8" y="382.3" text-anchor="middle">0.25</text>
<text x="1424.4" y="382.3" text-anchor="middle">0.5</text>
<text x="1493.1" y="382.3" text-anchor="middle">1</text>
<text x="1561.8" y="382.3" text-anchor="middle">2</text>
<text x="1630.4" y="382.3" text-anchor="middle">4</text>
<text x="1670.6" y="382.3" text-anchor="middle">6</text>
<text x="1699.1" y="382.3" text-anchor="middle">8</text>
</g>
<g id="bottom-panel-4">
<g clip-path="url(#cb3)">
<line class="g" x1="1355.8" x2="1355.8" y1="454.5" y2="763.7"/>
<line class="g" x1="1424.4" x2="1424.4" y1="454.5" y2="763.7"/>
<line class="g" x1="1561.8" x2="1561.8" y1="454.5" y2="763.7"/>
<line class="g" x1="1630.4" x2="1630.4" y1="454.5" y2="763.7"/>
<line class="g" x1="1670.6" x2="1670.6" y1="454.5" y2="763.7"/>
<line class="g" x1="1699.1" x2="1699.1" y1="454.5" y2="763.7"/>
<line class="v" x1="1493.1" x2="1493.1" y1="454.5" y2="763.7"/>
<path class="l" d="M1460.0 749.9L1460.0 749.9L1461.2 748.5L1462.4 747.0L1463.5 745.5L1464.7 744.0L1465.8 742.5L1466.8 741.0L1467.6 739.5L1468.2 738.0L1468.8 736.5L1469.3 735.0L1469.8 733.5L1470.2 732.0L1470.7 730.5L1471.1 729.0L1471.5 727.5L1471.9 726.0L1472.3 724.5L1472.6 723.0L1472.9 721.5L1473.1 720.0L1473.3 718.5L1473.4 717.0L1473.6 715.5L1473.7 714.0L1473.9 712.5L1474.0 711.0L1474.1 709.5L1474.3 708.0L1474.4 706.5L1474.5 705.0L1474.7 703.5L1474.8 702.0L1474.9 700.5L1475.1 699.0L1475.3 697.5L1475.4 696.0L1475.6 694.5L1475.7 693.0L1475.9 691.5L1476.0 690.0L1476.2 688.5L1476.3 687.0L1476.5 685.5L1476.6 684.0L1476.8 682.5L1476.9 681.0L1477.1 679.5L1477.2 678.0L1477.4 676.5L1477.5 675.0L1477.6 673.5L1477.7 672.0L1477.9 670.5L1478.0 669.0L1478.1 667.5L1478.2 666.0L1478.3 664.5L1478.4 663.0L1478.5 661.5L1478.6 660.0L1478.8 658.5L1478.9 657.0L1479.0 655.5L1479.1 654.0L1479.2 652.5L1479.3 651.0L1479.3 649.5L1479.4 648.0L1479.5 646.5L1479.6 645.0L1479.7 643.5L1479.8 642.0L1479.8 640.5L1479.9 639.0L1480.0 637.5L1480.0 636.0L1480.1 634.5L1480.2 633.0L1480.2 631.5L1480.3 630.0L1480.4 628.5L1480.4 627.0L1480.5 625.5L1480.5 624.0L1480.6 622.5L1480.7 621.0L1480.7 619.5L1480.8 618.0L1480.8 616.5L1480.9 615.0L1480.9 613.5L1481.0 612.0L1481.1 610.5L1481.1 609.0L1481.2 607.5L1481.2 606.0L1481.3 604.5L1481.3 603.0L1481.4 601.5L1481.4 600.0L1481.4 598.5L1481.5 597.0L1481.5 595.5L1481.6 594.0L1481.6 592.5L1481.7 591.0L1481.7 589.5L1481.7 588.0L1481.8 586.5L1481.8 585.0L1481.8 583.5L1481.9 582.0L1481.9 580.5L1481.9 579.0L1482.0 577.5L1482.0 576.0L1482.0 574.5L1482.1 573.0L1482.1 571.5L1482.1 570.0L1482.2 568.5L1482.2 567.0L1482.2 565.5L1482.2 564.0L1482.3 562.5L1482.3 561.0L1482.3 559.5L1482.4 558.0L1482.4 556.5L1482.4 555.0L1482.4 553.5L1482.5 552.0L1482.5 550.5L1482.5 549.0L1482.5 547.5L1482.5 546.0L1482.6 544.5L1482.6 543.0L1482.6 541.5L1482.6 540.0L1482.6 538.5L1482.7 537.0L1482.7 535.5L1482.7 534.0L1482.7 532.5L1482.7 531.0L1482.8 529.5L1482.8 528.0L1482.8 526.5L1482.8 525.0L1482.8 523.5L1482.9 522.0L1482.9 520.5L1482.9 519.0L1482.9 517.5L1482.9 516.0L1483.0 514.5L1483.0 513.0L1483.0 511.5L1483.0 510.0L1483.0 508.5L1483.0 507.0L1483.1 505.5L1483.1 504.0L1483.1 502.5L1483.1 501.0L1483.1 499.5L1483.1 498.0L1483.2 496.5L1483.2 495.0L1483.2 493.5L1483.2 492.0L1483.2 490.5L1483.2 489.0L1483.2 487.5L1483.3 486.0L1483.3 484.5L1483.3 483.0L1483.3 481.5L1483.3 480.0L1483.3 478.5L1483.3 477.0L1483.4 475.5L1483.4 474.0L1483.4 472.5L1483.4 471.0L1483.4 469.5L1483.4 468.0L1483.4 466.5L1483.4 465.0L1483.4 463.5L1483.5 462.0L1483.5 460.5L1483.5 459.0L1483.5 457.5L1483.5 456.0L1483.5 454.5L1483.5 450.0L1505.0 450.0L1505.0 454.5L1505.0 456.0L1505.0 457.5L1505.0 459.0L1505.0 460.5L1505.0 462.0L1505.1 463.5L1505.1 465.0L1505.1 466.5L1505.1 468.0L1505.1 469.5L1505.1 471.0L1505.1 472.5L1505.1 474.0L1505.1 475.5L1505.2 477.0L1505.2 478.5L1505.2 480.0L1505.2 481.5L1505.2 483.0L1505.2 484.5L1505.3 486.0L1505.3 487.5L1505.3 489.0L1505.3 490.5L1505.3 492.0L1505.3 493.5L1505.4 495.0L1505.4 496.5L1505.4 498.0L1505.4 499.5L1505.4 501.0L1505.5 502.5L1505.5 504.0L1505.5 505.5L1505.5 507.0L1505.5 508.5L1505.6 510.0L1505.6 511.5L1505.6 513.0L1505.6 514.5L1505.6 516.0L1505.7 517.5L1505.7 519.0L1505.7 520.5L1505.7 522.0L1505.7 523.5L1505.8 525.0L1505.8 526.5L1505.8 528.0L1505.8 529.5L1505.9 531.0L1505.9 532.5L1505.9 534.0L1505.9 535.5L1506.0 537.0L1506.0 538.5L1506.0 540.0L1506.1 541.5L1506.1 543.0L1506.1 544.5L1506.1 546.0L1506.2 547.5L1506.2 549.0L1506.2 550.5L1506.3 552.0L1506.3 553.5L1506.3 555.0L1506.4 556.5L1506.4 558.0L1506.5 559.5L1506.5 561.0L1506.5 562.5L1506.6 564.0L1506.6 565.5L1506.6 567.0L1506.7 568.5L1506.7 570.0L1506.8 571.5L1506.8 573.0L1506.8 574.5L1506.9 576.0L1506.9 577.5L1506.9 579.0L1507.0 580.5L1507.0 582.0L1507.1 583.5L1507.1 585.0L1507.1 586.5L1507.2 588.0L1507.2 589.5L1507.3 591.0L1507.3 592.5L1507.4 594.0L1507.4 595.5L1507.4 597.0L1507.5 598.5L1507.5 600.0L1507.6 601.5L1507.6 603.0L1507.7 604.5L1507.7 606.0L1507.7 607.5L1507.8 609.0L1507.8 610.5L1507.9 612.0L1507.9 613.5L1508.0 615.0L1508.0 616.5L1508.1 618.0L1508.1 619.5L1508.2 621.0L1508.2 622.5L1508.3 624.0L1508.4 625.5L1508.4 627.0L1508.5 628.5L1508.5 630.0L1508.6 631.5L1508.7 633.0L1508.7 634.5L1508.8 636.0L1508.8 637.5L1508.9 639.0L1509.0 640.5L1509.0 642.0L1509.1 643.5L1509.2 645.0L1509.3 646.5L1509.4 648.0L1509.5 649.5L1509.6 651.0L1509.6 652.5L1509.7 654.0L1509.9 655.5L1510.0 657.0L1510.1 658.5L1510.2 660.0L1510.3 661.5L1510.4 663.0L1510.5 664.5L1510.6 666.0L1510.7 667.5L1510.8 669.0L1510.9 670.5L1511.0 672.0L1511.2 673.5L1511.3 675.0L1511.4 676.5L1511.5 678.0L1511.6 679.5L1511.7 681.0L1511.8 682.5L1511.9 684.0L1512.1 685.5L1512.2 687.0L1512.3 688.5L1512.4 690.0L1512.6 691.5L1512.7 693.0L1512.8 694.5L1513.0 696.0L1513.1 697.5L1513.3 699.0L1513.4 700.5L1513.6 702.0L1513.8 703.5L1514.0 705.0L1514.2 706.5L1514.4 708.0L1514.7 709.5L1514.9 711.0L1515.1 712.5L1515.4 714.0L1515.7 715.5L1515.9 717.0L1516.2 718.5L1516.5 720.0L1516.7 721.5L1517.0 723.0L1517.3 724.5L1517.5 726.0L1517.8 727.5L1518.2 729.0L1518.5 730.5L1519.0 732.0L1519.5 733.5L1520.0 735.0L1520.6 736.5L1521.3 738.0L1522.0 739.5L1522.8 741.0L1523.8 742.5L1524.8 744.0L1526.0 745.5L1527.2 747.0L1528.6 748.5L1530.0 749.9L1530.0 749.9Z"/>
<path class="k" d="M1482.0 749.9L1482.0 749.9L1482.4 747.2L1485.4 739.7L1486.0 730.0L1487.3 700.0L1489.3 641.0L1491.0 585.0L1493.0 560.0L1494.3 534.0L1496.7 580.0L1498.9 641.0L1501.2 700.0L1503.0 730.0L1504.2 747.2L1504.5 749.9L1504.5 749.9Z"/>
<line class="h" x1="1337.8" x2="1739.6" y1="750" y2="750"/>
</g>
<rect class="b" x="1343.1" y="457.1" width="350" height="69.3" rx="6.3" ry="6.3"/>
<text class="t" x="1349.7" y="483" xml:space="preserve">mean = 0.01 (-0.07 -  0.09)</text>
<text class="t" x="1349.7" y="512.6" xml:space="preserve">SD = 0.03 (0.01 - 0.11)</text>
<text x="1355.8" y="797.3" text-anchor="middle">0.25</text>
<text x="1424.4" y="797.3" text-anchor="middle">0.5</text>
<text x="1493.1" y="797.3" text-anchor="middle">1</text>
<text x="1561.8" y="797.3" text-anchor="middle">2</text>
<text x="1630.4" y="797.3" text-anchor="middle">4</text>
<text x="1670.6" y="797.3" text-anchor="middle">6</text>
<text x="1699.1" y="797.3" text-anchor="middle">8</text>
</g>
<g id="y-axis">
<text x="73.8" y="344.4" text-anchor="end">0.0</text>
<text x="73.8" y="254.4" text-anchor="end">0.4</text>
<text x="73.8" y="164.4" text-anchor="end">0.8</text>
<text x="73.8" y="74.4" text-anchor="end">1.2</text>
<text transform="translate(22.8,193.4) rotate(-90)" text-anchor="middle">Standard Error</text>
<text transform="translate(22.8,608.8) rotate(-90)" text-anchor="middle">Density</text>
</g>
<text x="913.5" y="418.3" text-anchor="middle">Estimated effect size</text>
<text x="913.5" y="833.3" text-anchor="middle">Systematic Error</text>
</svg>
</body>
</html>
